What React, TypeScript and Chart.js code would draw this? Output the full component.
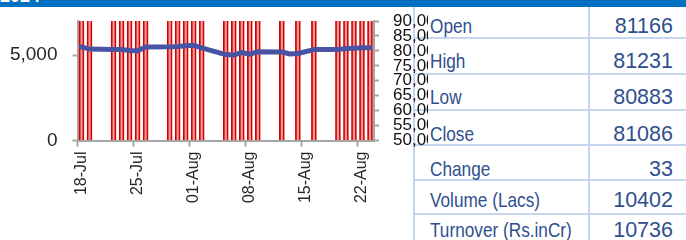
import React, { useEffect, useRef } from 'react';
import { Chart, registerables } from 'chart.js';

Chart.register(...registerables);

// ---------- data ----------
const calendarStart = '2024-07-18';
const calendarEnd = '2024-08-23';
const monthNames = ['Jan', 'Feb', 'Mar', 'Apr', 'May', 'Jun', 'Jul', 'Aug', 'Sep', 'Oct', 'Nov', 'Dec'];

const tradeDates = [
  '2024-07-18', '2024-07-19',
  '2024-07-22', '2024-07-23', '2024-07-24', '2024-07-25', '2024-07-26',
  '2024-07-29', '2024-07-30', '2024-07-31', '2024-08-01', '2024-08-02',
  '2024-08-05', '2024-08-06', '2024-08-07', '2024-08-08', '2024-08-09',
  '2024-08-12', '2024-08-13', '2024-08-14', '2024-08-16',
  '2024-08-19', '2024-08-20', '2024-08-21', '2024-08-22', '2024-08-23',
];
const closeValues = [
  81343, 80605,
  80502, 80429, 80149, 80039, 81333,
  81355, 81455, 81741, 81867, 80982,
  78759, 78593, 79468, 78886, 79706,
  79648, 78956, 79106, 80437,
  80424, 80803, 80905, 81053, 81086,
];
const volumeValues: (number | null)[] = [
  11800, 12600,
  10900, 11500, 10200, 12100, 10800,
  9800, 10400, 11200, 11900, 12800,
  15200, 13100, 11000, 10300, 9900,
  9500, null, 10100, 11300,
  9700, 9900, 9400, 10100, 10402,
];

const tickEvery = 7;
const leftAxisMax = 7000;
const leftTicks = [0, 5000];
const rightAxisMin = 50000;
const rightAxisMax = 90000;
const rightTicks = [50000, 55000, 60000, 65000, 70000, 75000, 80000, 85000, 90000];

const summaryLabels = ['Open', 'High', 'Low', 'Close', 'Change', 'Volume (Lacs)', 'Turnover (Rs.inCr)'];
const summaryValues = ['81166', '81231', '80883', '81086', '33', '10402', '10736'];

// ---------- helpers ----------
function buildCalendar() {
  const keys: string[] = [];
  const labels: string[] = [];
  const d = new Date(calendarStart + 'T00:00:00Z');
  const end = new Date(calendarEnd + 'T00:00:00Z');
  while (d.getTime() <= end.getTime()) {
    keys.push(d.toISOString().slice(0, 10));
    const day = String(d.getUTCDate()).padStart(2, '0');
    labels.push(day + '-' + monthNames[d.getUTCMonth()]);
    d.setUTCDate(d.getUTCDate() + 1);
  }
  return { keys, labels };
}

const FONT = "'Liberation Sans', Arial, sans-serif";
const AXIS = '#a6a6a6';
const TEXT = '#262626';

function zeroPad(s: any) {
  s.paddingTop = 0;
  s.paddingBottom = 0;
  s.paddingLeft = 0;
  s.paddingRight = 0;
}

export default function App() {
  const canvasRef = useRef<HTMLCanvasElement | null>(null);

  useEffect(() => {
    const canvas = canvasRef.current;
    if (!canvas) return;
    const { keys, labels } = buildCalendar();
    const closeSeries = keys.map((k) => {
      const i = tradeDates.indexOf(k);
      return i >= 0 ? closeValues[i] : null;
    });
    const volumeSeries = keys.map((k) => {
      const i = tradeDates.indexOf(k);
      return i >= 0 ? volumeValues[i] : null;
    });

    const chart = new Chart(canvas, {
      type: 'bar',
      data: {
        labels,
        datasets: [
          {
            type: 'line',
            data: closeSeries,
            yAxisID: 'yRight',
            borderColor: '#4853a4',
            backgroundColor: '#4853a4',
            borderWidth: 5,
            pointRadius: 0,
            spanGaps: true,
            tension: 0,
            borderCapStyle: 'round',
            borderJoinStyle: 'round',
            order: 0,
          } as any,
          {
            type: 'bar',
            data: volumeSeries,
            yAxisID: 'yLeft',
            backgroundColor: '#ec9a9a',
            borderColor: '#d40000',
            borderWidth: { left: 1.75, right: 1.75, top: 0, bottom: 0 },
            barThickness: 5,
            clip: 0,
            order: 1,
          } as any,
        ],
      },
      options: {
        animation: false,
        responsive: false,
        devicePixelRatio: 1,
        events: [],
        layout: { padding: { top: 21, left: 0, right: 0, bottom: 0 }, autoPadding: false } as any,
        plugins: { legend: { display: false }, tooltip: { enabled: false }, title: { display: false } },
        scales: {
          x: {
            type: 'category',
            offset: true,
            grid: {
              display: true,
              drawOnChartArea: false,
              offset: true,
              tickLength: 6,
              tickWidth: 2,
              tickColor: (ctx: any) =>
                typeof ctx.index === 'number' && ctx.index % tickEvery === 0 ? AXIS : 'rgba(0,0,0,0)',
            },
            border: { display: true, color: AXIS, width: 2 },
            ticks: {
              autoSkip: false,
              maxRotation: 90,
              minRotation: 90,
              padding: 5,
              color: TEXT,
              font: { family: FONT, size: 16 },
              callback: (_v: any, i: number) => (i % tickEvery === 0 ? labels[i] : ''),
            },
            afterFit: (s: any) => {
              s.height = 99.5;
              zeroPad(s);
            },
          },
          yLeft: {
            type: 'linear',
            position: 'left',
            min: 0,
            max: leftAxisMax,
            grid: { drawOnChartArea: false, tickLength: 5, tickWidth: 2, tickColor: AXIS },
            border: { display: true, color: AXIS, width: 2 },
            afterBuildTicks: (s: any) => {
              s.ticks = leftTicks.map((v) => ({ value: v }));
            },
            ticks: {
              autoSkip: false,
              padding: 15,
              color: TEXT,
              font: { family: FONT, size: 19 },
              callback: (v: any) => Number(v).toLocaleString('en-US'),
            },
            afterFit: (s: any) => {
              s.width = 77.5;
              zeroPad(s);
            },
          },
          yRight: {
            type: 'linear',
            position: 'right',
            min: rightAxisMin,
            max: rightAxisMax,
            grid: { drawOnChartArea: false, tickLength: 5, tickWidth: 2, tickColor: AXIS },
            border: { display: true, color: AXIS, width: 2 },
            afterBuildTicks: (s: any) => {
              s.ticks = rightTicks.map((v) => ({ value: v }));
            },
            ticks: {
              autoSkip: false,
              padding: 14,
              color: '#111111',
              font: { family: FONT, size: 17 },
              callback: (v: any) => Number(v).toLocaleString('en-US'),
            },
            afterFit: (s: any) => {
              s.width = 54;
              zeroPad(s);
            },
          },
        } as any,
      },
    });
    return () => chart.destroy();
  }, []);

  const baselines = [33, 68, 104, 141, 176, 207, 237];
  const hLines = [38, 74, 110, 145, 180, 214];
  const tableColor = '#2f4f8f';
  const lineColor = '#c5d6ee';

  return (
    <div style={{ position: 'fixed', left: 0, top: 0, width: 686, height: 240, background: '#ffffff', overflow: 'hidden' }}>
      <svg width={686} height={240} style={{ position: 'absolute', left: 0, top: 0 }}>
        {hLines.map((y, i) => (
          <line key={'h' + i} x1={414} x2={686} y1={y} y2={y} stroke={lineColor} strokeWidth={2} />
        ))}
        <line x1={414} x2={414} y1={7} y2={240} stroke={lineColor} strokeWidth={2} />
        <line x1={589} x2={589} y1={7} y2={240} stroke={lineColor} strokeWidth={2} />
        {summaryLabels.map((t, i) => (
          <g key={'l' + i} transform={`translate(430 ${baselines[i]}) scale(0.82 1)`}>
            <text x={0} y={0} fill={tableColor} fontFamily={FONT} fontSize={21}>
              {t}
            </text>
          </g>
        ))}
        {summaryValues.map((t, i) => (
          <text key={'v' + i} x={673} y={baselines[i]} textAnchor="end" fill={tableColor} fontFamily={FONT} fontSize={21.5}>
            {t}
          </text>
        ))}
      </svg>
      <canvas
        ref={canvasRef}
        width={428}
        height={240}
        style={{ position: 'absolute', left: 0, top: 0, width: 428, height: 240, display: 'block' }}
      />
      <div
        style={{
          position: 'absolute',
          left: 0,
          top: 0,
          width: 686,
          height: 7,
          background: '#0070c0',
          overflow: 'hidden',
        }}
      >
        <div style={{ position: 'absolute', left: 0, top: -14, color: '#ffffff', fontFamily: FONT, fontWeight: 'bold', fontSize: 18, lineHeight: '20px' }}>
          2024
        </div>
      </div>
    </div>
  );
}
